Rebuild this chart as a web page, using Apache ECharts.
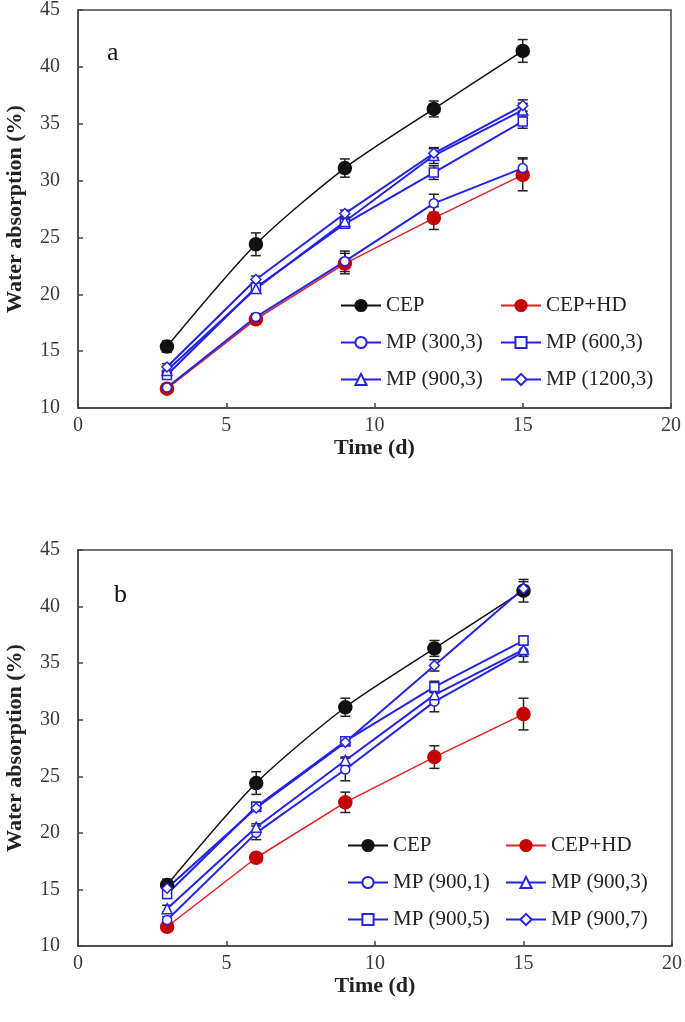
<!DOCTYPE html>
<html>
<head>
<meta charset="utf-8">
<script src="https://cdn.jsdelivr.net/npm/echarts@6/dist/echarts.min.js"></script>
<style>
  html, body { margin: 0; padding: 0; background: #fff; }
  #chart { width: 685px; height: 1022px; }
</style>
</head>
<body>
<div id="chart"></div>
<script>
// tick values
const xTicks = [0, 5, 10, 15, 20];
const yTicks = [10, 15, 20, 25, 30, 35, 40, 45];
const days = [3, 6, 9, 12, 15];

// panel a
const namesA = ['CEP', 'CEP+HD', 'MP (300,3)', 'MP (600,3)', 'MP (900,3)', 'MP (1200,3)'];
const cep = [15.4, 24.4, 31.1, 36.3, 41.4];
const cepErr = [0.5, 1.0, 0.8, 0.7, 1.0];
const cepHd = [11.7, 17.8, 22.7, 26.7, 30.5];
const cepHdErr = [0.4, 0.4, 0.9, 1.0, 1.4];
const mp300_3 = [11.8, 18.0, 22.9, 28.0, 31.1];
const mp300_3Err = [0.3, 0.3, 0.9, 0.8, 0.9];
const mp600_3 = [12.9, 20.6, 26.2, 30.7, 35.2];
const mp600_3Err = [0.3, 0.3, 0.3, 0.6, 0.6];
const mp900_3 = [13.3, 20.5, 26.4, 32.2, 36.2];
const mp900_3Err = [0.3, 0.3, 0.3, 0.7, 0.6];
const mp1200_3 = [13.6, 21.3, 27.1, 32.4, 36.6];
const mp1200_3Err = [0.3, 0.3, 0.3, 0.4, 0.5];

// panel b
const namesB = ['CEP', 'CEP+HD', 'MP (900,1)', 'MP (900,3)', 'MP (900,5)', 'MP (900,7)'];
const mp900_1 = [12.3, 20.0, 25.6, 31.6, 36.0];
const mp900_1Err = [0.3, 0.6, 1.0, 0.9, 0.9];
const mp900_5 = [14.6, 22.3, 28.1, 32.9, 37.0];
const mp900_5Err = [0.4, 0.4, 0.3, 0.5, 0.4];
const mp900_7 = [15.1, 22.2, 28.0, 34.8, 41.6];
const mp900_7Err = [0.3, 0.3, 0.3, 0.5, 0.6];

const blue = '#2323e6';
const styles = {
  'CEP': { color: '#111', line: '#111', symbol: 'circle', size: 13, fill: '#111' },
  'CEP+HD': { color: '#c40000', line: '#e02222', symbol: 'circle', size: 13, fill: '#c40000' },
  'MP (300,3)': { color: blue, line: blue, symbol: 'circle', size: 9, fill: '#fff' },
  'MP (600,3)': { color: blue, line: blue, symbol: 'rect', size: 9, fill: '#fff' },
  'MP (900,3)': { color: blue, line: blue, symbol: 'triangle', size: 10, fill: '#fff' },
  'MP (1200,3)': { color: blue, line: blue, symbol: 'diamond', size: 10, fill: '#fff' },
  'MP (900,1)': { color: blue, line: blue, symbol: 'circle', size: 9, fill: '#fff' },
  'MP (900,5)': { color: blue, line: blue, symbol: 'rect', size: 9, fill: '#fff' },
  'MP (900,7)': { color: blue, line: blue, symbol: 'diamond', size: 10, fill: '#fff' }
};

const font = 'Liberation Serif, Times New Roman, serif';

function lineSeries(name, vals, gi) {
  const s = styles[name];
  return {
    name: name,
    type: 'line',
    xAxisIndex: gi,
    yAxisIndex: gi,
    smooth: name === 'CEP' ? 0.25 : false,
    symbol: s.symbol,
    symbolSize: s.size,
    z: 3,
    lineStyle: { color: s.line, width: name === 'CEP' || name === 'CEP+HD' ? 1.5 : 2 },
    itemStyle: { color: s.fill, borderColor: s.color, borderWidth: 1.5 },
    emphasis: { disabled: true },
    data: days.map((d, i) => [d, vals[i]])
  };
}

function errSeries(vals, errs, gi) {
  return {
    type: 'custom',
    xAxisIndex: gi,
    yAxisIndex: gi,
    z: 2,
    silent: true,
    encode: { x: 0, y: 1 },
    renderItem: function (params, api) {
      const x = api.value(0), y = api.value(1), e = api.value(2);
      const hi = api.coord([x, y + e]);
      const lo = api.coord([x, y - e]);
      const w = 5;
      const st = { stroke: '#222', lineWidth: 1.5 };
      return {
        type: 'group',
        children: [
          { type: 'line', shape: { x1: hi[0], y1: hi[1], x2: lo[0], y2: lo[1] }, style: st },
          { type: 'line', shape: { x1: hi[0] - w, y1: hi[1], x2: hi[0] + w, y2: hi[1] }, style: st },
          { type: 'line', shape: { x1: lo[0] - w, y1: lo[1], x2: lo[0] + w, y2: lo[1] }, style: st }
        ]
      };
    },
    data: days.map((d, i) => [d, vals[i], errs[i]])
  };
}

function xAxis(gi) {
  return {
    type: 'value', gridIndex: gi,
    min: xTicks[0], max: xTicks[xTicks.length - 1], interval: xTicks[1] - xTicks[0],
    name: 'Time (d)', nameLocation: 'middle', nameGap: 26,
    nameTextStyle: { fontFamily: font, fontSize: 22, fontWeight: 'bold', color: '#222' },
    axisLine: { show: true, lineStyle: { color: '#444', width: 1.5 } },
    axisTick: { show: true, inside: true, length: 5, lineStyle: { color: '#444', width: 1.5 } },
    axisLabel: { fontFamily: font, fontSize: 20, color: '#3a3a3a', margin: 8 },
    splitLine: { show: false }
  };
}

function yAxis(gi) {
  return {
    type: 'value', gridIndex: gi,
    min: yTicks[0], max: yTicks[yTicks.length - 1], interval: yTicks[1] - yTicks[0],
    name: 'Water absorption (%)', nameLocation: 'middle', nameGap: 52,
    nameTextStyle: { fontFamily: font, fontSize: 22, fontWeight: 'bold', color: '#222' },
    axisLine: { show: true, lineStyle: { color: '#444', width: 1.5 } },
    axisTick: { show: true, inside: true, length: 5, lineStyle: { color: '#444', width: 1.5 } },
    axisLabel: { fontFamily: font, fontSize: 20, color: '#3a3a3a', margin: 18 },
    splitLine: { show: false }
  };
}

function legend(names, left, top) {
  return {
    orient: 'vertical',
    left: left, top: top,
    padding: 0,
    data: names,
    itemWidth: 40, itemHeight: 14, itemGap: 16,
    selectedMode: false,
    textStyle: { fontFamily: font, fontSize: 21, color: '#222' }
  };
}

const chart = echarts.init(document.getElementById('chart'));
chart.setOption({
  backgroundColor: '#fff',
  animation: false,
  grid: [
    { left: 78, top: 10, width: 593, height: 398, outerBoundsMode: 'none', show: true, borderColor: '#444', borderWidth: 1.5, backgroundColor: 'transparent' },
    { left: 78, top: 550, width: 594, height: 396, outerBoundsMode: 'none', show: true, borderColor: '#444', borderWidth: 1.5, backgroundColor: 'transparent' }
  ],
  xAxis: [xAxis(0), xAxis(1)],
  yAxis: [yAxis(0), yAxis(1)],
  legend: [
    legend(['CEP', 'MP (300,3)', 'MP (900,3)'], 340, 295),
    legend(['CEP+HD', 'MP (600,3)', 'MP (1200,3)'], 500, 295),
    legend(['CEP', 'MP (900,1)', 'MP (900,5)'], 347, 835),
    legend(['CEP+HD', 'MP (900,3)', 'MP (900,7)'], 505, 835)
  ],
  graphic: [
    { type: 'text', left: 107, top: 40, style: { text: 'a', font: '26px ' + font, fill: '#111' } },
    { type: 'text', left: 114, top: 582, style: { text: 'b', font: '26px ' + font, fill: '#111' } }
  ],
  series: [
    errSeries(cep, cepErr, 0),
    errSeries(cepHd, cepHdErr, 0),
    errSeries(mp300_3, mp300_3Err, 0),
    errSeries(mp600_3, mp600_3Err, 0),
    errSeries(mp900_3, mp900_3Err, 0),
    errSeries(mp1200_3, mp1200_3Err, 0),
    lineSeries('CEP', cep, 0),
    lineSeries('CEP+HD', cepHd, 0),
    lineSeries('MP (300,3)', mp300_3, 0),
    lineSeries('MP (600,3)', mp600_3, 0),
    lineSeries('MP (900,3)', mp900_3, 0),
    lineSeries('MP (1200,3)', mp1200_3, 0),
    errSeries(cep, cepErr, 1),
    errSeries(cepHd, cepHdErr, 1),
    errSeries(mp900_1, mp900_1Err, 1),
    errSeries(mp900_3, mp900_3Err, 1),
    errSeries(mp900_5, mp900_5Err, 1),
    errSeries(mp900_7, mp900_7Err, 1),
    lineSeries('CEP', cep, 1),
    lineSeries('CEP+HD', cepHd, 1),
    lineSeries('MP (900,1)', mp900_1, 1),
    lineSeries('MP (900,3)', mp900_3, 1),
    lineSeries('MP (900,5)', mp900_5, 1),
    lineSeries('MP (900,7)', mp900_7, 1)
  ]
});
</script>
</body>
</html>
